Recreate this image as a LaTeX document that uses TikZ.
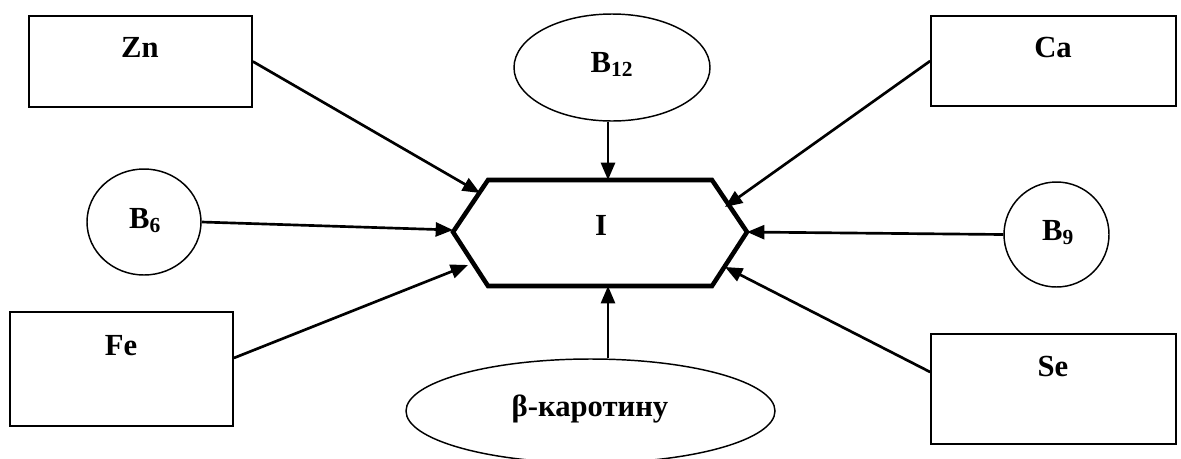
\documentclass[tikz,border=0pt]{standalone}
\usepackage{fontspec}
\setmainfont{Liberation Serif}
\usetikzlibrary{arrows.meta,calc,shapes.geometric}

\begin{document}
\begin{tikzpicture}[
        x=0.75pt, y=-0.75pt,
        box/.style={draw=black, line width=1.3pt, rectangle, inner sep=0pt},
        oval/.style={draw=black, line width=1.1pt, ellipse, inner sep=0pt},
        txt/.style={font=\fontsize{23}{27}\selectfont\bfseries, anchor=base, inner sep=0pt},
        link/.style={line width=2pt, draw=black, -{Triangle[length=13pt,width=10.5pt]}},
        hexline/.style={line width=3.4pt, draw=black, line join=miter}
    ]
        \useasboundingbox (0,0) rectangle (1181,458);

        \node[box, minimum width=223*0.75pt, minimum height=91*0.75pt] (zn) at (140.5, 61.5) {};
        \node[txt] (zn_txt) at (140, 57) {Zn};

        \node[box, minimum width=245*0.75pt, minimum height=90*0.75pt] (ca) at (1053.5, 61) {};
        \node[txt] (ca_txt) at (1053, 57) {Ca};

        \node[box, minimum width=223*0.75pt, minimum height=114*0.75pt] (fe) at (121.5, 369) {};
        \node[txt] (fe_txt) at (121, 355) {Fe};

        \node[box, minimum width=245*0.75pt, minimum height=110*0.75pt] (se) at (1053.5, 389) {};
        \node[txt] (se_txt) at (1053, 376) {Se};

        \node[oval, minimum width=114*0.75pt, minimum height=106*0.75pt] (b6) at (144, 222) {};
        \node[txt] (b6_txt) at (145, 228) {B\textsubscript{6}};

        \node[oval, minimum width=105*0.75pt, minimum height=105*0.75pt] (b9) at (1056.5, 234.5) {};
        \node[txt] (b9_txt) at (1058, 240) {B\textsubscript{9}};

        \node[oval, minimum width=196*0.75pt, minimum height=107*0.75pt] (b12) at (612, 67.5) {};
        \node[txt] (b12_txt) at (612, 72) {B\textsubscript{12}};

        \node[oval, minimum width=369*0.75pt, minimum height=104*0.75pt] (beta) at (590.5, 411) {};
        \node[txt] (beta_txt) at (590, 416) {β-каротину};

        \draw[hexline] (453, 232) -- (488, 180) -- (712, 180) -- (747, 232) -- (712, 286) -- (488, 286) -- cycle;
        \node[txt] (hex_txt) at (601, 235) {I};

        \coordinate (zn_in) at (480, 193);
        \coordinate (b6_in) at (453, 230);
        \coordinate (fe_in) at (468, 265);
        \coordinate (b12_in) at (608, 180);
        \coordinate (beta_in) at (608, 286);
        \coordinate (ca_in) at (725, 207);
        \coordinate (b9_in) at (747, 232);
        \coordinate (se_in) at (725, 267);

        \draw[link] (zn.east) -- (zn_in);
        \draw[link] (b6.east) -- (b6_in);
        \draw[link] ($(fe.east)+(0,-11)$) -- (fe_in);
        \draw[link] (b12.south -| b12_in) -- (b12_in);
        \draw[link] (beta.north -| beta_in) -- (beta_in);
        \draw[link] (ca.west) -- (ca_in);
        \draw[link] (b9.west) -- (b9_in);
        \draw[link] ($(se.west)+(0,-17)$) -- (se_in);
    \end{tikzpicture}
\end{document}
